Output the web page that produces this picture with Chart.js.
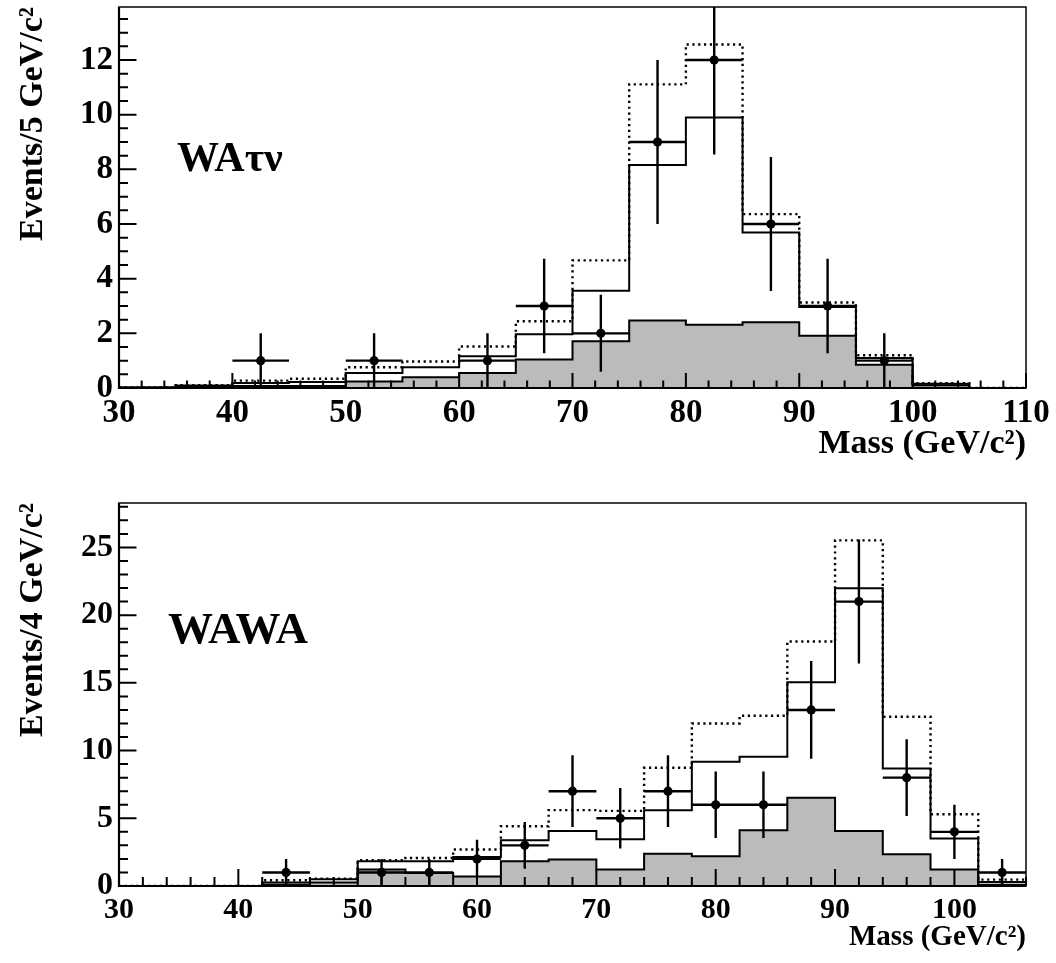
<!DOCTYPE html>
<html>
<head>
<meta charset="utf-8">
<script src="https://cdn.jsdelivr.net/npm/chart.js@4.4.1/dist/chart.umd.min.js"></script>
<style>
  html, body { margin: 0; padding: 0; background: #fff; }
  #wrap { position: relative; width: 1056px; height: 963px; }
  canvas { position: absolute; left: 0; }
  #topChart { top: 0; }
  #bottomChart { top: 480px; }
</style>
</head>
<body>
<div id="wrap">
  <canvas id="topChart" width="1056" height="480"></canvas>
  <canvas id="bottomChart" width="1056" height="483"></canvas>
</div>
<script>
// Top panel (WA tau nu), 5 GeV bins
const topEdges = [30, 35, 40, 45, 50, 55, 60, 65, 70, 75, 80, 85, 90, 95, 100, 105, 110];
const topBackground = [0.02, 0.05, 0.07, 0.07, 0.24, 0.39, 0.55, 1.04, 1.71, 2.47, 2.31, 2.41, 1.91, 0.85, 0.10, 0];
const topTotal = [0.02, 0.09, 0.18, 0.22, 0.55, 0.76, 1.16, 1.97, 3.56, 8.16, 9.90, 5.69, 2.96, 1.10, 0.16, 0];
const topDotted = [0.02, 0.10, 0.27, 0.34, 0.76, 0.97, 1.52, 2.44, 4.67, 11.11, 12.57, 6.36, 3.13, 1.20, 0.18, 0];
const topDataX = [42.5, 52.5, 62.5, 67.5, 72.5, 77.5, 82.5, 87.5, 92.5, 97.5];
const topDataY = [1, 1, 1, 3, 2, 9, 12, 6, 3, 1];
const topDataErr = [1, 1, 1, 1.73, 1.41, 3, 3.46, 2.45, 1.73, 1];
const topXTicks = [30, 40, 50, 60, 70, 80, 90, 100, 110];
const topYTicks = [0, 2, 4, 6, 8, 10, 12];

// Bottom panel (WAWA), 4 GeV bins
const bottomEdges = [30, 34, 38, 42, 46, 50, 54, 58, 62, 66, 70, 74, 78, 82, 86, 90, 94, 98, 102, 106];
const bottomBackground = [0, 0, 0, 0.10, 0.25, 1.21, 0.96, 0.71, 1.82, 1.95, 1.21, 2.39, 2.19, 4.12, 6.51, 4.07, 2.34, 1.21, 0.10];
const bottomTotal = [0, 0, 0, 0.25, 0.49, 1.82, 1.82, 2.14, 3.38, 4.07, 3.45, 5.60, 9.17, 9.54, 15.04, 21.99, 8.68, 3.50, 0.30];
const bottomDotted = [0, 0, 0, 0.42, 0.54, 1.90, 2.07, 2.69, 4.41, 5.60, 5.55, 8.73, 12.00, 12.57, 18.05, 25.52, 12.50, 5.30, 0.47];
const bottomDataX = [44, 52, 56, 60, 64, 68, 72, 76, 80, 84, 88, 92, 96, 100, 104];
const bottomDataY = [1, 1, 1, 2, 3, 7, 5, 7, 6, 6, 13, 21, 8, 4, 1];
const bottomDataErr = [1, 1, 1, 1.41, 1.73, 2.65, 2.24, 2.65, 2.45, 2.45, 3.61, 4.58, 2.83, 2, 1];
const bottomXTicks = [30, 40, 50, 60, 70, 80, 90, 100];
const bottomYTicks = [0, 5, 10, 15, 20, 25];

const SERIF = "'Liberation Serif', 'DejaVu Serif', serif";

// Histogram outline: one point per bin left edge plus the closing edge
function histPoints(edges, values) {
    const pts = values.map((v, i) => ({ x: edges[i], y: v }));
    pts.push({ x: edges[edges.length - 1], y: values[values.length - 1] });
    return pts;
}

// Error bar crosses, separated by gaps
function errorSegments(xs, ys, errs, halfWidth) {
    const pts = [];
    xs.forEach((x, i) => {
        pts.push({ x: x - halfWidth, y: ys[i] }, { x: x + halfWidth, y: ys[i] }, { x: x, y: null });
        pts.push({ x: x, y: ys[i] - errs[i] }, { x: x, y: ys[i] + errs[i] }, { x: x, y: null });
    });
    return pts;
}

// Inward ticks, frame and panel label
const framePlugin = {
    id: 'frame',
    afterDatasetsDraw(chart, args, o) {
        const { ctx, chartArea: a, scales: { x, y } } = chart;
        ctx.save();
        ctx.strokeStyle = '#000';
        ctx.lineWidth = 2;
        ctx.beginPath();
        const nx = Math.round((x.max - x.min) / o.xMinor);
        for (let k = 0; k <= nx; k++) {
            const v = x.min + k * o.xMinor;
            const len = o.xMajor.includes(v) ? o.xMajorLen : o.xMinorLen;
            const px = x.getPixelForValue(v);
            ctx.moveTo(px, a.bottom);
            ctx.lineTo(px, a.bottom - len);
        }
        const ny = Math.floor((y.max - y.min) / o.yMinor + 1e-6);
        for (let k = 0; k <= ny; k++) {
            const v = Math.round((y.min + k * o.yMinor) * 100) / 100;
            const len = o.yMajor.includes(v) ? o.yMajorLen : o.yMinorLen;
            const py = y.getPixelForValue(v);
            ctx.moveTo(a.left, py);
            ctx.lineTo(a.left + len, py);
        }
        ctx.stroke();

        ctx.lineWidth = 1.5;
        ctx.strokeRect(a.left, a.top, a.width, a.height);
        ctx.lineWidth = 2.2;
        ctx.beginPath();
        ctx.moveTo(a.left, a.top);
        ctx.lineTo(a.left, a.bottom);
        ctx.lineTo(a.right, a.bottom);
        ctx.stroke();

        ctx.fillStyle = '#000';
        ctx.font = 'bold ' + o.labelSize + 'px ' + SERIF;
        ctx.textAlign = 'left';
        ctx.textBaseline = 'alphabetic';
        ctx.fillText(o.label, a.left + o.labelX, a.top + o.labelY);
        ctx.restore();
    }
};

function makeChart(canvasId, c) {
    const ctx = document.getElementById(canvasId).getContext('2d');
    return new Chart(ctx, {
        type: 'line',
        data: {
            datasets: [{
                type: 'scatter',
                data: c.dataX.map((x, i) => ({ x: x, y: c.dataY[i] })),
                pointRadius: 4.6,
                pointBackgroundColor: '#000',
                pointBorderWidth: 0,
                order: 0
            }, {
                data: errorSegments(c.dataX, c.dataY, c.dataErr, c.halfWidth),
                borderColor: '#000',
                borderWidth: 2.4,
                pointRadius: 0,
                spanGaps: false,
                order: 1
            }, {
                data: histPoints(c.edges, c.dotted),
                borderColor: '#000',
                borderWidth: 2.4,
                borderDash: [2.2, 3.6],
                pointRadius: 0,
                stepped: true,
                order: 2
            }, {
                data: histPoints(c.edges, c.total),
                borderColor: '#000',
                borderWidth: 2,
                pointRadius: 0,
                stepped: true,
                order: 3
            }, {
                data: histPoints(c.edges, c.background),
                borderColor: '#000',
                borderWidth: 2,
                backgroundColor: '#bbbbbb',
                fill: 'origin',
                pointRadius: 0,
                stepped: true,
                order: 4
            }]
        },
        options: {
            responsive: false,
            animation: false,
            devicePixelRatio: 1,
            layout: { padding: { top: c.padTop, right: 30, left: 0, bottom: 0 } },
            plugins: {
                legend: { display: false },
                tooltip: { enabled: false },
                frame: {
                    xMinor: 2, xMajor: c.xTicks, xMajorLen: c.xMajorLen, xMinorLen: c.xMinorLen,
                    yMinor: c.yMinor, yMajor: c.yTicks, yMajorLen: 17.5, yMinorLen: 9,
                    label: c.label, labelX: c.labelX, labelY: c.labelY, labelSize: c.labelSize
                }
            },
            scales: {
                x: {
                    type: 'linear',
                    min: 30,
                    max: c.xMax,
                    grid: { display: false, drawTicks: false },
                    border: { display: false },
                    afterBuildTicks: s => { s.ticks = c.xTicks.map(v => ({ value: v })); },
                    afterFit: s => {
                        s.height = c.xHeight;
                        s.paddingLeft = 0; s.paddingRight = 0;
                    },
                    ticks: {
                        autoSkip: false,
                        maxRotation: 0,
                        padding: 6,
                        color: '#000',
                        font: { family: SERIF, weight: 'bold', size: c.xTickSize }
                    },
                    title: {
                        display: true,
                        text: 'Mass (GeV/c²)',
                        align: 'end',
                        color: '#000',
                        padding: { top: 0, bottom: c.xTitlePad },
                        font: { family: SERIF, weight: 'bold', size: c.xTitleSize }
                    }
                },
                y: {
                    min: 0,
                    max: c.yMax,
                    grid: { display: false, drawTicks: false },
                    border: { display: false },
                    afterBuildTicks: s => { s.ticks = c.yTicks.map(v => ({ value: v })); },
                    afterFit: s => {
                        s.width = 119;
                        s.paddingTop = 0; s.paddingBottom = 0;
                    },
                    ticks: {
                        padding: 6,
                        color: '#000',
                        font: { family: SERIF, weight: 'bold', size: c.yTickSize }
                    },
                    title: {
                        display: true,
                        text: c.yTitle,
                        align: 'end',
                        color: '#000',
                        padding: { top: 13, bottom: 0 },
                        font: { family: SERIF, weight: 'bold', size: 34 }
                    }
                }
            }
        },
        plugins: [framePlugin]
    });
}

makeChart('topChart', {
    edges: topEdges, background: topBackground, total: topTotal, dotted: topDotted,
    dataX: topDataX, dataY: topDataY, dataErr: topDataErr, halfWidth: 2.5,
    xTicks: topXTicks, yTicks: topYTicks, xMax: 110, yMax: 13.94, yMinor: 0.5,
    padTop: 7, xHeight: 92, xTickSize: 33, yTickSize: 33, xTitleSize: 34, xTitlePad: 15,
    xMajorLen: 15, xMinorLen: 7.5,
    yTitle: 'Events/5 GeV/c²', label: 'WAτν', labelX: 58, labelY: 164, labelSize: 42
});

makeChart('bottomChart', {
    edges: bottomEdges, background: bottomBackground, total: bottomTotal, dotted: bottomDotted,
    dataX: bottomDataX, dataY: bottomDataY, dataErr: bottomDataErr, halfWidth: 2,
    xTicks: bottomXTicks, yTicks: bottomYTicks, xMax: 106, yMax: 28.28, yMinor: 1,
    padTop: 23, xHeight: 77, xTickSize: 30, yTickSize: 32, xTitleSize: 29, xTitlePad: 8,
    xMajorLen: 17, xMinorLen: 9,
    yTitle: 'Events/4 GeV/c²', label: 'WAWA', labelX: 49, labelY: 140, labelSize: 45
});
</script>
</body>
</html>
